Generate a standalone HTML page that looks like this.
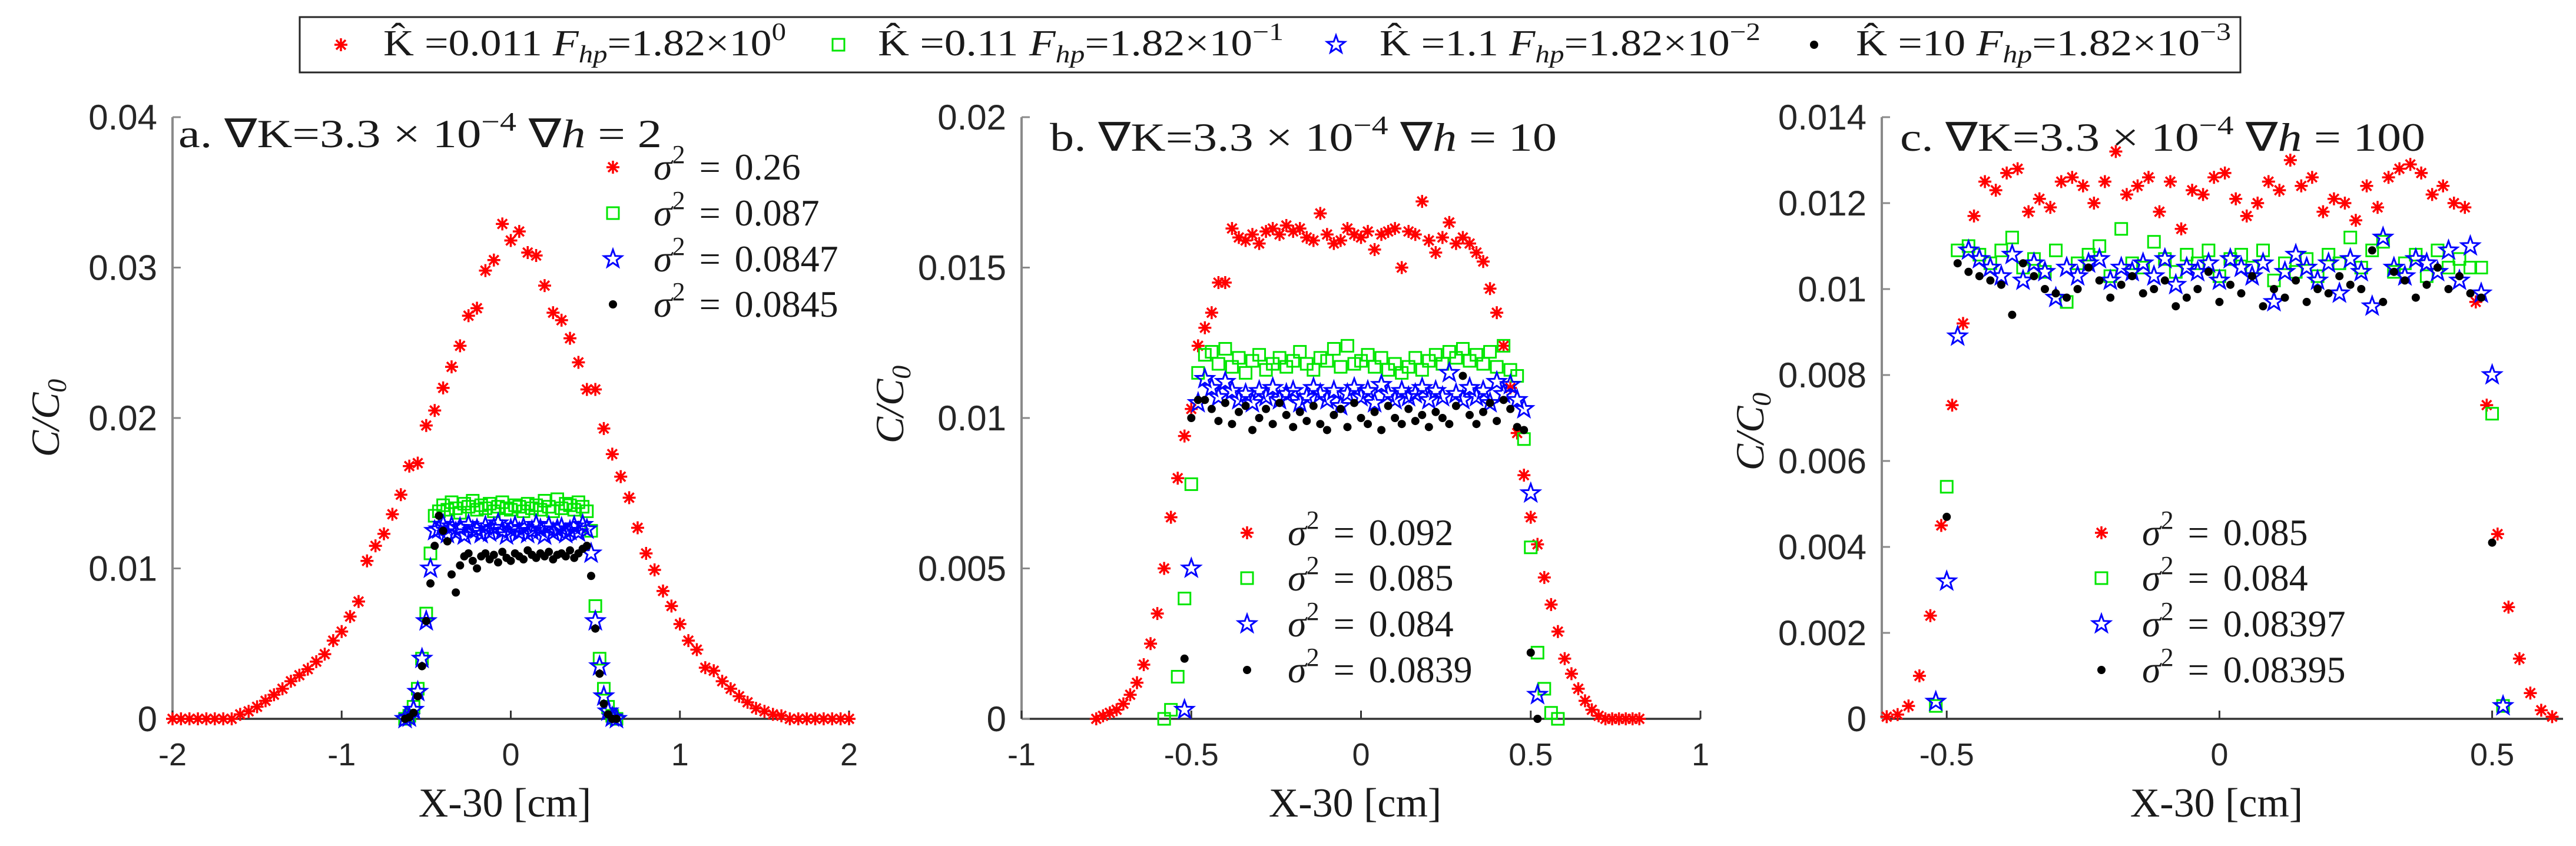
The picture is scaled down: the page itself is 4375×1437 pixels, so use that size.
<!DOCTYPE html>
<html><head><meta charset="utf-8">
<style>
html,body{margin:0;padding:0;background:#fff;}
svg{display:block;}
.tk{font-family:"Liberation Sans",Arial,sans-serif;fill:#262626;}
.sr{font-family:"Liberation Serif","Times New Roman",serif;fill:#1a1a1a;}
</style></head>
<body>
<svg id="chart" xmlns="http://www.w3.org/2000/svg" width="4375" height="1437" viewBox="0 0 4375 1437">
<rect x="0" y="0" width="4375" height="1437" fill="#fff"/>
<g id="top-legend">
<rect x="509" y="29" width="3296" height="94" fill="#fff" stroke="#262626" stroke-width="3"/>
<text class="sr" x="651" y="94" font-size="62" textLength="684" lengthAdjust="spacingAndGlyphs">K̂ =0.011 <tspan font-style="italic">F</tspan><tspan font-style="italic" font-size="42" dy="12">hp</tspan><tspan dy="-12">=1.82×10</tspan><tspan font-size="42" dy="-26">0</tspan></text>
<text class="sr" x="1491" y="94" font-size="62" textLength="689" lengthAdjust="spacingAndGlyphs">K̂ =0.11 <tspan font-style="italic">F</tspan><tspan font-style="italic" font-size="42" dy="12">hp</tspan><tspan dy="-12">=1.82×10</tspan><tspan font-size="42" dy="-26">−1</tspan></text>
<text class="sr" x="2343" y="94" font-size="62" textLength="647" lengthAdjust="spacingAndGlyphs">K̂ =1.1 <tspan font-style="italic">F</tspan><tspan font-style="italic" font-size="42" dy="12">hp</tspan><tspan dy="-12">=1.82×10</tspan><tspan font-size="42" dy="-26">−2</tspan></text>
<text class="sr" x="3152" y="94" font-size="62" textLength="637" lengthAdjust="spacingAndGlyphs">K̂ =10 <tspan font-style="italic">F</tspan><tspan font-style="italic" font-size="42" dy="12">hp</tspan><tspan dy="-12">=1.82×10</tspan><tspan font-size="42" dy="-26">−3</tspan></text>
</g>
</svg>
<script>
// ---------- data (values in units of 1e-3 C/C0) ----------
const aRedX0=-2, aRedDx=0.05;
const aRedY=[0,0,0,0,0,0,0,0,0.3,0.5,0.8,1.2,1.6,2.0,2.5,2.9,3.3,3.8,4.3,5.2,5.8,6.8,7.8,10.5,11.5,12.3,13.6,14.9,16.8,17,19.5,20.5,22,23.4,24.8,26.8,27.3,29.8,30.5,32.9,31.8,32.4,31,30.8,28.8,27,26.5,25.3,23.7,21.9,21.9,19.3,17.6,16.1,14.7,12.7,11,9.9,8.5,7.5,6.3,5.2,4.6,3.4,3.2,2.5,2,1.5,1.1,0.7,0.5,0.3,0.2,0,0,0,0,0,0,0,0];
const aGridX0=-0.625, aGridDx=0.025;
const aGreenY=[0,0.2,0.8,2,4,7,11,13.5,13.8,14.2,13.9,14.4,14.0,13.7,14.3,14.1,14.5,13.9,14.2,14.0,14.3,13.8,14.1,14.4,14.0,13.9,14.2,14.1,13.8,14.3,14.0,14.2,13.9,14.5,14.1,13.8,14.6,14.0,14.3,14.2,13.9,14.4,14.1,13.8,12.5,7.5,4,2,0.8,0.2,0];
const aBlueY=[0,0.1,0.6,1.8,4,6.5,10,12.5,12.6,12.9,12.3,12.8,12.4,12.7,12.2,12.9,12.5,12.6,12.3,12.8,12.4,12.7,13.0,12.5,12.2,12.6,12.8,12.4,12.7,12.3,12.5,12.9,12.6,12.2,12.8,12.4,12.6,12.7,12.3,12.5,12.8,12.4,12.9,12.6,11,6.5,3.5,1.5,0.5,0.1,0];
const aBlackY=[0,0.1,0.4,1.5,3.5,6.5,9,11.5,13.5,12.5,11.8,9.6,8.4,10.2,10.8,11.0,10.5,10.0,10.8,11.0,10.6,10.9,10.4,11.1,10.7,10.5,11.0,10.8,10.6,11.2,10.9,10.7,11.0,10.8,11.1,10.6,10.9,11.0,10.8,11.2,10.7,11.0,11.3,11.5,9.5,6,3,1,0.3,0,0];

const bRedX0=-0.78, bRedDx=0.02;
const bRedY=[0,0.1,0.2,0.3,0.5,0.8,1.2,1.8,2.5,3.5,5,6.7,8,9.4,10.3,12.4,13,13.5,14.5,14.5,16.3,16.0,15.9,16.1,15.8,16.2,16.3,16.1,16.4,16.2,16.3,16.0,15.9,16.8,16.1,15.8,15.9,16.3,16.1,16.0,16.2,15.6,16.1,16.2,16.3,15.0,16.2,16.1,17.2,15.9,15.5,16.0,16.5,15.8,16.0,15.8,15.5,15.2,14.3,13.5,12.4,11,9.5,8.1,6.7,5.8,4.7,3.8,2.9,2,1.5,1,0.6,0.3,0.1,0,0,0,0,0,0];
const bGreenX0=-0.58, bGridDx=0.02;
const bGreenY=[0,0.3,1.4,4,7.8,11.5,12.1,12.2,11.8,12.3,11.7,12.0,11.5,11.9,12.1,11.6,11.8,12.0,11.7,11.9,12.2,11.8,11.6,12.0,11.9,12.3,11.7,12.4,11.8,11.9,12.1,11.7,12.0,11.6,11.8,11.5,11.7,12.0,11.6,11.9,12.1,11.8,12.2,12.0,12.3,11.9,12.1,11.8,12.2,11.7,12.4,11.6,11.4,9.3,5.7,2.2,1,0.2,0];
const bInnerX0=-0.52;
const bBlueY=[0.3,5,10.5,11.3,11.0,10.7,11.2,10.9,10.6,10.8,10.5,10.9,10.7,11.0,10.6,10.8,10.9,10.5,10.7,11.0,10.8,10.6,10.9,10.4,10.8,11.0,10.7,10.9,10.5,11.1,10.8,10.6,10.9,10.7,10.8,11.0,10.6,10.9,10.7,11.5,10.8,10.6,11.0,10.7,10.9,10.5,11.2,10.8,11.1,10.6,10.3,7.5,0.8];
const bBlackY=[2,10,10.6,10.6,10.3,9.9,10.5,9.8,10.2,10.4,9.6,10.0,10.3,9.8,10.5,10.1,9.7,10.2,9.9,10.4,9.8,9.6,10.1,10.3,9.7,10.5,10.0,9.8,10.2,9.6,10.4,10.0,9.8,10.3,9.9,10.1,9.7,10.2,10.0,9.8,10.4,11.4,10.1,9.8,10.2,10.5,9.9,10.6,10.3,9.7,9.6,2.2,0];

const cRedX0=-0.61, cRedDx=0.02;
const cRedY=[0.05,0.1,0.3,1.0,2.4,4.5,7.3,9.2,11.7,12.5,12.3,12.7,12.8,11.8,12.1,11.9,12.5,12.6,12.4,12.0,12.5,13.2,12.2,12.4,12.6,11.8,12.5,11.4,12.3,12.2,12.6,12.7,12.1,11.7,12.0,12.5,12.3,13.0,12.4,12.6,11.8,12.1,12.0,11.6,12.4,11.9,12.6,12.8,12.9,12.7,12.2,12.4,12.0,11.9,9.7,7.3,4.3,2.6,1.4,0.6,0.2,0.05];
const cGridX0=-0.52, cGridDx=0.02;
const cGreenY=[0.3,5.4,10.9,11.0,10.8,10.6,10.9,11.2,10.5,10.7,10.4,10.9,9.7,10.6,10.8,11.0,10.3,11.4,10.6,10.5,11.1,10.7,10.4,10.8,10.6,10.9,10.3,10.7,10.8,10.5,10.9,10.2,10.6,10.4,10.7,10.3,10.8,10.6,11.2,10.5,10.9,11.1,10.4,10.6,10.8,10.3,10.9,10.5,10.7,10.5,10.5,7.1,0.3];
const cBlueY=[0.4,3.2,8.9,10.9,10.7,10.5,10.3,10.8,10.2,10.6,10.4,9.8,10.5,10.3,10.6,10.7,10.2,10.5,10.4,10.6,10.3,10.7,10.1,10.5,10.4,10.6,10.2,10.7,10.5,10.3,10.6,9.7,10.4,10.8,10.5,10.2,10.6,9.9,10.7,10.4,9.6,11.2,10.5,10.3,10.7,10.6,10.4,10.9,10.2,11.0,9.9,8.0,0.3];
const cBlackY=[null,4.7,10.6,10.4,10.3,10.2,10.1,9.4,10.6,10.3,10.0,9.9,9.8,10.0,10.5,10.2,9.8,10.1,10.3,9.9,10.0,10.2,9.6,9.8,10.0,10.4,9.7,10.1,9.9,10.3,9.6,10.0,9.8,10.2,9.7,10.0,9.9,10.3,10.1,10.0,10.9,9.7,10.4,10.2,9.8,10.1,10.5,10.0,10.3,9.9,9.8,4.1,null];

const aYTicks=[0,0.01,0.02,0.03,0.04], aYLabels=["0","0.01","0.02","0.03","0.04"];
const aXTicks=[-2,-1,0,1,2], aXLabels=["-2","-1","0","1","2"];
const bYTicks=[0,0.005,0.01,0.015,0.02], bYLabels=["0","0.005","0.01","0.015","0.02"];
const bXTicks=[-1,-0.5,0,0.5,1], bXLabels=["-1","-0.5","0","0.5","1"];
const cYTicks=[0,0.002,0.004,0.006,0.008,0.01,0.012,0.014], cYLabels=["0","0.002","0.004","0.006","0.008","0.01","0.012","0.014"];
const cXTicks=[-0.5,0,0.5], cXLabels=["-0.5","0","0.5"];

// ---------- drawing ----------
const NS="http://www.w3.org/2000/svg";
const svg=document.getElementById('chart');
function mk(tag,attrs,parent){const e=document.createElementNS(NS,tag);for(const k in attrs)e.setAttribute(k,attrs[k]);(parent||svg).appendChild(e);return e;}
const RED="#ff0000",GREEN="#00e600",BLUE="#0000ff",BLACK="#000000";
function marker(kind,x,y,g){
  let m;
  if(kind==='ast'){
    m=mk('path',{d:`M${x-11},${y}H${x+11}M${x},${y-11}V${y+11}M${x-8},${y-8}L${x+8},${y+8}M${x-8},${y+8}L${x+8},${y-8}`,stroke:RED,'stroke-width':3.5,fill:'none'},g);
  }else if(kind==='sq'){
    m=mk('rect',{x:x-10,y:y-10,width:20,height:20,stroke:GREEN,'stroke-width':3,fill:'none'},g);
  }else if(kind==='star'){
    let p=[];for(let i=0;i<10;i++){const r=i%2?6.5:16;const a=-Math.PI/2+i*Math.PI/5;p.push((x+r*Math.cos(a)).toFixed(1)+','+(y+r*Math.sin(a)).toFixed(1));}
    m=mk('polygon',{points:p.join(' '),stroke:BLUE,'stroke-width':3,fill:'none'},g);
  }else{
    m=mk('circle',{cx:x,cy:y,r:7,fill:BLACK},g);
  }
  return m;
}
function panel(id,cfg){
  const g=mk('g',{});
  
  
  const sx=v=>cfg.px0+(v-cfg.xmin)/(cfg.xmax-cfg.xmin)*(cfg.px1-cfg.px0);
  const sy=v=>cfg.py1-(v-0)/cfg.ymax*(cfg.py1-cfg.py0);
  const axL=mk('line',{x1:cfg.px0,y1:cfg.py0,x2:cfg.px0,y2:cfg.py1,stroke:'#8a8a8a','stroke-width':4},g);
  
  
  const axB=mk('line',{x1:cfg.px0,y1:cfg.py1,x2:cfg.px1,y2:cfg.py1,stroke:'#333','stroke-width':3.5},g);
  
  
  cfg.yt.forEach((v,i)=>{
    const y=sy(v);
    mk('line',{x1:cfg.px0,y1:y,x2:cfg.px0+14,y2:y,stroke:'#8a8a8a','stroke-width':3},g);
    const t=mk('text',{x:cfg.px0-26,y:y+21,'text-anchor':'end',class:'tk','font-size':60},g);
    t.textContent=cfg.yl[i];
    
    
  });
  cfg.xt.forEach((v,i)=>{
    const x=sx(v);
    mk('line',{x1:x,y1:cfg.py1,x2:x,y2:cfg.py1-14,stroke:'#333','stroke-width':3},g);
    const t=mk('text',{x:x,y:1300,'text-anchor':'middle',class:'tk','font-size':54},g);
    t.textContent=cfg.xl[i];
    
    
  });
  cfg.series.forEach(s=>{
    const sg=mk('g',{},g);
    
    
    s.y.forEach((v,i)=>{
      if(v===null)return;
      const xv=s.x0+i*s.dx;
      marker(s.kind,sx(xv),sy(v/1000),sg);
    });
  });
  const tt=mk('text',{x:cfg.tx,y:cfg.ty,class:'sr','font-size':68,textLength:cfg.tw,lengthAdjust:'spacingAndGlyphs'},g);
  tt.innerHTML=cfg.title+'  ∇K=3.3 × 10<tspan font-size="46" dy="-28">−4</tspan><tspan dy="28"> ∇</tspan><tspan font-style="italic">h</tspan> = '+cfg.dh;
  
  
  const xl=mk('text',{x:(cfg.px0+cfg.px1)/2-10,y:1387,'text-anchor':'middle',class:'sr','font-size':70},g);
  xl.textContent='X-30 [cm]';
  
  
  const yl=mk('text',{x:0,y:0,'text-anchor':'middle',class:'sr','font-size':68,'font-style':'italic',transform:`translate(${cfg.ylx},${cfg.yly}) rotate(-90)`},g);
  yl.innerHTML='C/C<tspan font-size="46" dy="12">0</tspan>';
  
  
  const kinds=['ast','sq','star','dot'];
  cfg.leg.forEach((lab,i)=>{
    const lg=mk('g',{},g);
    
    
    const y=cfg.ly[i];
    marker(kinds[i],cfg.lmx,y,lg);
    const t=mk('text',{x:cfg.ltx,y:y+21,class:'sr','font-size':64,'word-spacing':'8'},lg);
    t.innerHTML='<tspan font-style="italic">σ</tspan><tspan font-size="44" dy="-28">2</tspan><tspan dy="28"> = '+lab+'</tspan>';
  });
}
const rowsTop=[284,362,440,517], rowsLow=[905,982,1060,1138];
panel('panel-a',{px0:293,px1:1442,py0:199,py1:1221,xmin:-2,xmax:2,ymax:0.04,yt:aYTicks,yl:aYLabels,xt:aXTicks,xl:aXLabels,
  tx:303,ty:250,tw:821,title:'a.',dh:'2',ylx:100,yly:710,lmx:1041,ltx:1110,ly:rowsTop,leg:['0.26','0.087','0.0847','0.0845'],
  series:[{name:'series-red-a',kind:'ast',x0:aRedX0,dx:aRedDx,y:aRedY},{name:'series-green-a',kind:'sq',x0:aGridX0,dx:aGridDx,y:aGreenY},
          {name:'series-blue-a',kind:'star',x0:aGridX0,dx:aGridDx,y:aBlueY},{name:'series-black-a',kind:'dot',x0:aGridX0,dx:aGridDx,y:aBlackY}]});
panel('panel-b',{px0:1735,px1:2888,py0:199,py1:1221,xmin:-1,xmax:1,ymax:0.02,yt:bYTicks,yl:bYLabels,xt:bXTicks,xl:bXLabels,
  tx:1783,ty:256,tw:861,title:'b.',dh:'10',ylx:1534,yly:687,lmx:2118,ltx:2187,ly:rowsLow,leg:['0.092','0.085','0.084','0.0839'],
  series:[{name:'series-red-b',kind:'ast',x0:bRedX0,dx:bRedDx,y:bRedY},{name:'series-green-b',kind:'sq',x0:bGreenX0,dx:bGridDx,y:bGreenY},
          {name:'series-blue-b',kind:'star',x0:bInnerX0,dx:bGridDx,y:bBlueY},{name:'series-black-b',kind:'dot',x0:bInnerX0,dx:bGridDx,y:bBlackY}]});
panel('panel-c',{px0:3196,px1:4353,py0:199,py1:1221,xmin:-0.619,xmax:0.63,ymax:0.014,yt:cYTicks,yl:cYLabels,xt:cXTicks,xl:cXLabels,
  tx:3227,ty:256,tw:892,title:'c.',dh:'100',ylx:2995,yly:733,lmx:3569,ltx:3638,ly:rowsLow,leg:['0.085','0.084','0.08397','0.08395'],
  series:[{name:'series-red-c',kind:'ast',x0:cRedX0,dx:cRedDx,y:cRedY},{name:'series-green-c',kind:'sq',x0:cGridX0,dx:cGridDx,y:cGreenY},
          {name:'series-blue-c',kind:'star',x0:cGridX0,dx:cGridDx,y:cBlueY},{name:'series-black-c',kind:'dot',x0:cGridX0,dx:cGridDx,y:cBlackY}]});
const tl=document.getElementById('top-legend');
[['ast',579],['sq',1424],['star',2269],['dot',3081]].forEach(p=>{
  const mg=mk('g',{},tl);
  
  
  marker(p[0],p[1],76,mg);
});
</script>
</body></html>
